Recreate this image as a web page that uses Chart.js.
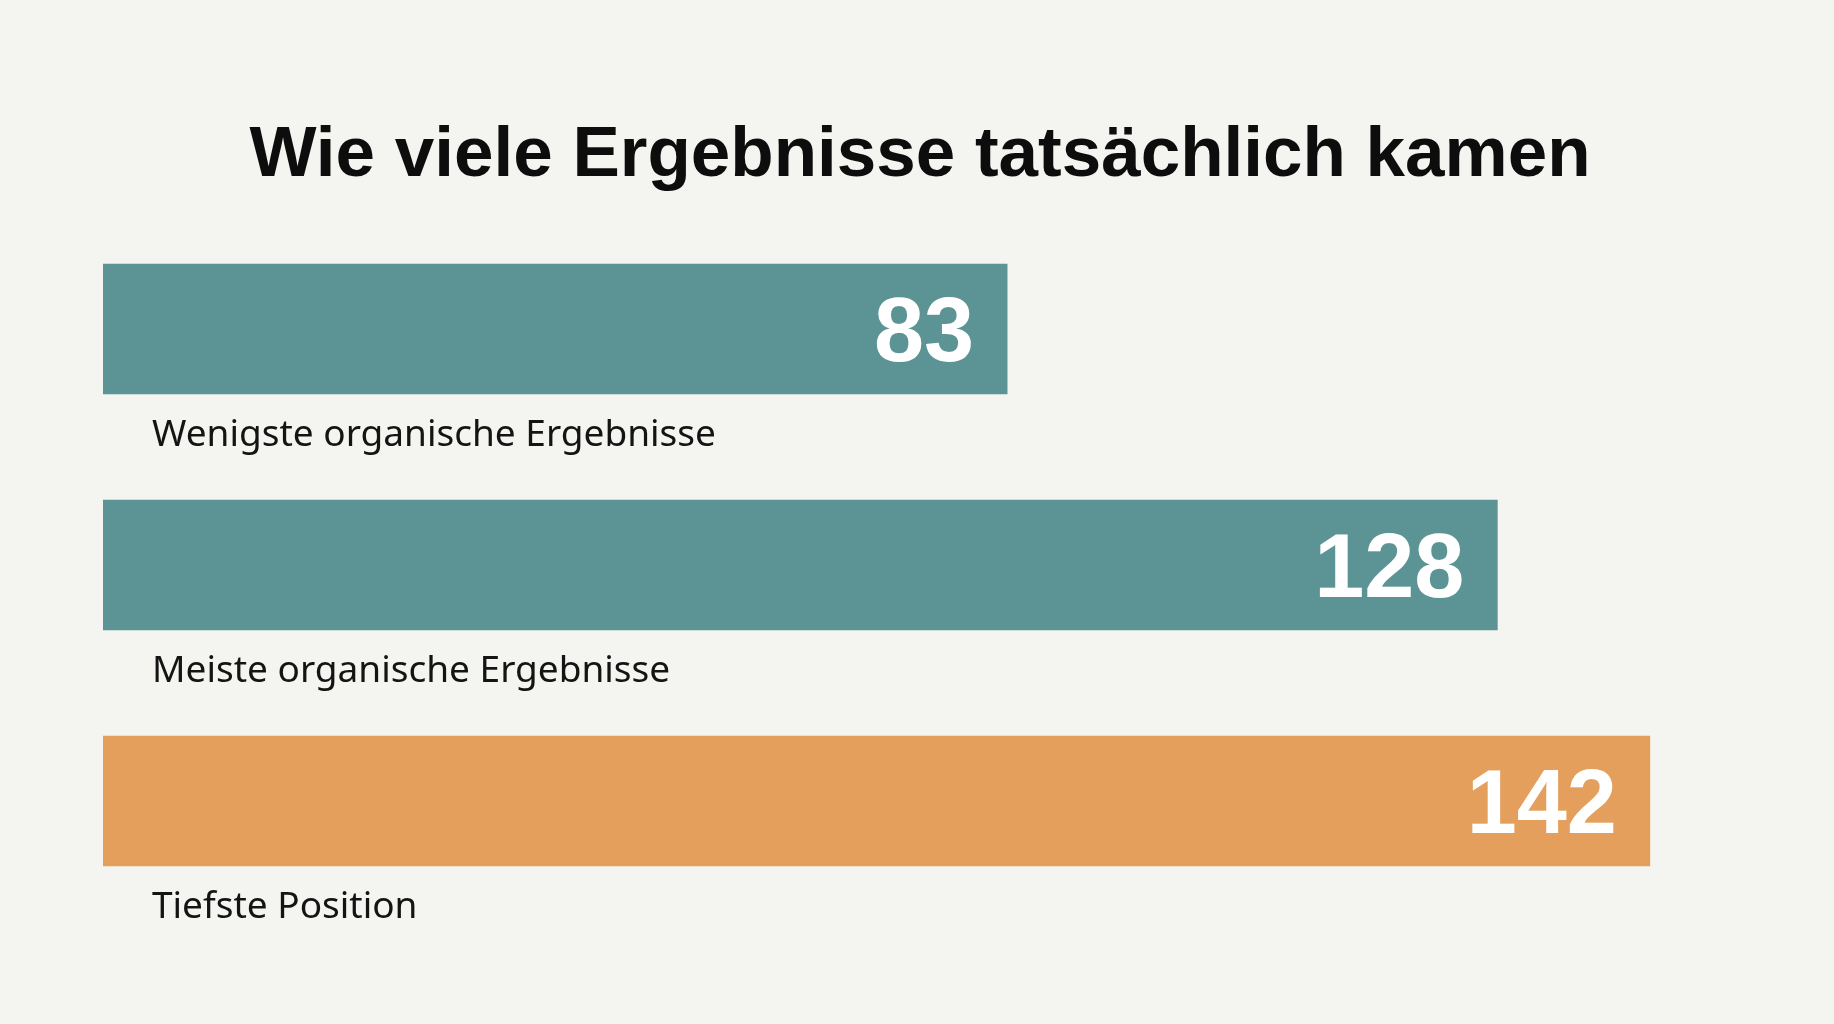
<!DOCTYPE html>
<html>
<head>
<meta charset="utf-8">
<script src="https://cdn.jsdelivr.net/npm/chart.js@4.4.1/dist/chart.umd.min.js"></script>
<style>
  html,body{margin:0;padding:0;background:#f4f4f1;}
  #wrap{width:1834px;height:1024px;position:relative;}
</style>
</head>
<body>
<div id="wrap"><canvas id="chart"></canvas></div>
<script>
/* data */
const categories = ['Wenigste organische Ergebnisse', 'Meiste organische Ergebnisse', 'Tiefste Position'];
const values = [83, 128, 142];
const barColors = ['#5c9395', '#5c9395', '#e49f5c'];
const titleText = 'Wie viele Ergebnisse tatsächlich kamen';

/* text under each bar + value inside bar end */
const barText = {
  id:'barText',
  afterDatasetsDraw(chart){
    const ctx = chart.ctx;
    const meta = chart.getDatasetMeta(0);
    ctx.save();
    meta.data.forEach((bar, i)=>{
      // value, right aligned inside the bar
      ctx.fillStyle = '#ffffff';
      ctx.font = 'bold 90px "Liberation Sans", Arial, sans-serif';
      ctx.textAlign = 'right';
      ctx.textBaseline = 'middle';
      ctx.fillText(String(values[i]), bar.x - 33, bar.y + 7);
      // category label below the bar
      ctx.fillStyle = '#141414';
      ctx.font = '37px "Noto Sans", sans-serif';
      ctx.textAlign = 'left';
      ctx.fillText(categories[i], chart.chartArea.left + 49, bar.y + 106);
    });
    ctx.restore();
  }
};

new Chart(document.getElementById('chart'), {
  type:'bar',
  data:{
    labels: categories,
    datasets:[{ data: values, backgroundColor: barColors, borderWidth:0, barThickness:130 }]
  },
  options:{
    indexAxis:'y',
    responsive:true,
    maintainAspectRatio:false,
    animation:false,
    layout:{ padding:{ left:103, right:97, top:0, bottom:105 } },
    plugins:{
      legend:{ display:false },
      tooltip:{ enabled:false },
      title:{
        display:true,
        text: titleText,
        color:'#0d0d0d',
        font:{ family:'"Liberation Sans", Arial, sans-serif', size:71, weight:'bold', lineHeight:1.2 },
        padding:{ top:114, bottom:11.8 }
      }
    },
    scales:{
      x:{ display:false, min:0, max:150 },
      y:{ display:false }
    }
  },
  plugins:[barText]
});
</script>
</body>
</html>
